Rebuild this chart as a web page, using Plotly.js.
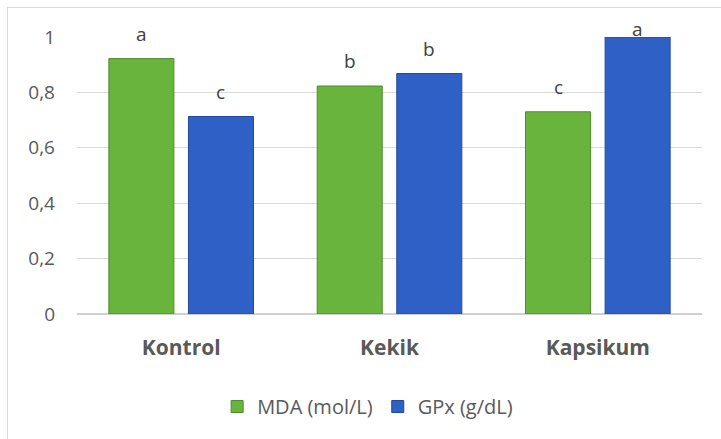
<!DOCTYPE html>
<html>
<head>
<meta charset="utf-8">
<script src="https://cdn.plot.ly/plotly-3.0.1.min.js"></script>
<style>
html,body{margin:0;padding:0;overflow:hidden;background:#fff;}
#wrap{position:relative;width:721px;height:439px;overflow:hidden;}
#frame{position:absolute;left:7px;top:7px;width:800px;height:500px;border:1px solid #d9d9d9;box-sizing:border-box;}
#chart{position:absolute;left:0;top:0;width:721px;height:439px;}
</style>
</head>
<body>
<div id="wrap"><div id="frame"></div><div id="chart"></div></div>
<script>
const categories = ["Kontrol", "Kekik", "Kapsikum"];
const mdaValues = [0.922, 0.823, 0.730];
const gpxValues = [0.713, 0.868, 1.0];
const mdaLetters = ["a", "b", "c"];
const gpxLetters = ["c", "b", "a"];
const seriesNames = ["MDA (mol/L)", "GPx (g/dL)"];
const yTickVals = [0, 0.2, 0.4, 0.6, 0.8, 1];
const yTickText = ["0", "0,2", "0,4", "0,6", "0,8", "1"];

const bargap = 0.236;
const font = "'Open Sans', 'DejaVu Sans', sans-serif";
const grey = "#595959";
const marginT = 37, marginB = 125, H = 439;
const pxPerUnit = H - marginT - marginB;
const letterShift = 25;   // px between bar top and label centre
const letterTop = 1.03;   // labels never rise above this axis value

function shiftFor(v) { return Math.min(letterShift, (letterTop - v) * pxPerUnit); }

const traces = [
  {type: "bar", name: seriesNames[0], x: categories, y: mdaValues,
   marker: {color: "#69b43c", line: {color: "#4f8a2b", width: 1}}},
  {type: "bar", name: seriesNames[1], x: categories, y: gpxValues,
   marker: {color: "#2e60c6", line: {color: "#21489c", width: 1}}}
];

const off = (1 - bargap) / 4;
const annotations = [];
const letterFont = {family: font, size: 19, color: "#404040"};
categories.forEach((c, i) => {
  annotations.push({x: i - off, y: mdaValues[i], xref: "x", yref: "y", yshift: shiftFor(mdaValues[i]),
    text: mdaLetters[i], showarrow: false, yanchor: "middle", font: letterFont});
  annotations.push({x: i + off, y: gpxValues[i], xref: "x", yref: "y", yshift: shiftFor(gpxValues[i]),
    text: gpxLetters[i], showarrow: false, yanchor: "middle", font: letterFont});
});

const layout = {
  width: 721, height: H,
  margin: {l: 77, r: 19, t: marginT, b: marginB},
  paper_bgcolor: "rgba(0,0,0,0)", plot_bgcolor: "rgba(0,0,0,0)",
  barmode: "group", bargap: bargap, bargroupgap: 0.183,
  font: {family: font, color: grey},
  xaxis: {type: "category", showgrid: false, showline: false, zeroline: false, ticks: "",
    tickfont: {family: font, size: 21, color: grey, weight: "bold"}, ticklabelstandoff: 19},
  yaxis: {range: [0, 1], tickvals: yTickVals, ticktext: yTickText, showgrid: true,
    gridcolor: "#d9d9d9", gridwidth: 1, zeroline: true, zerolinecolor: "#d0d0d0", zerolinewidth: 1.5,
    showline: false, ticks: "", tickfont: {family: font, size: 19, color: grey}, ticklabelstandoff: 21},
  showlegend: true,
  legend: {orientation: "h", x: 0.465, xanchor: "center", y: -0.334, yanchor: "middle",
    font: {family: font, size: 20, color: grey}, itemwidth: 30, tracegroupgap: 0},
  annotations: annotations
};

Plotly.newPlot("chart", traces, layout, {displayModeBar: false, staticPlot: true});
</script>
</body>
</html>
